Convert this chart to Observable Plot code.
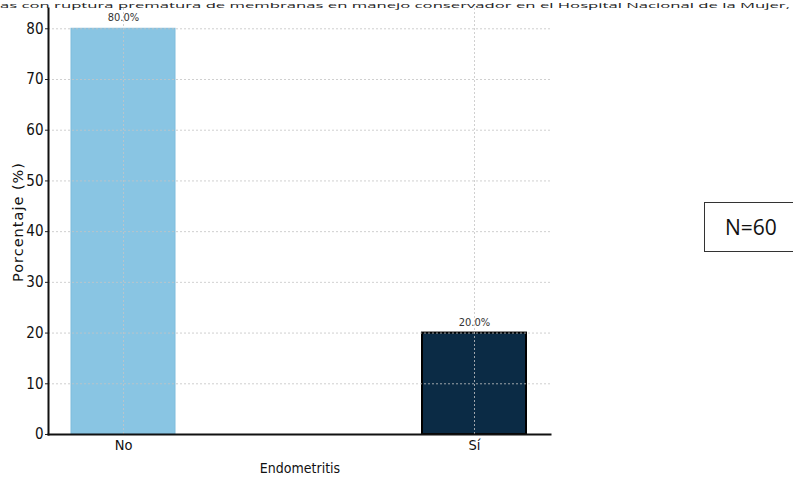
<!DOCTYPE html>
<html>
<head>
<meta charset="utf-8">
<script src="https://cdn.jsdelivr.net/npm/d3@7"></script>
<script src="https://cdn.jsdelivr.net/npm/@observablehq/plot@0.6"></script>
<style>
  html, body { margin: 0; padding: 0; background: #fff; }
  #wrap { position: relative; width: 793px; height: 482px; overflow: hidden; }
  #title { position: absolute; left: 0; top: 0; }
  #nbox {
    position: absolute; left: 704px; top: 202px; width: 96px; height: 50px;
    border: 1px solid #333; box-sizing: border-box;
    font-family: "Open Sans", "Noto Sans", sans-serif; font-size: 21px;
    display: flex; align-items: center; padding-left: 20px; color: #111;
  }
  #chart { position: absolute; left: 0; top: 0; }
</style>
</head>
<body>
<div id="wrap">
  <div id="chart"></div>
  <svg id="title" width="793" height="12"></svg>
  <div id="nbox"></div>
</div>
<script>
// Endometritis frequency (percentage of patients)
const categories = ["No", "Sí"];
const percentages = [80.0, 20.0];
const barColors = ["#89c5e3", "#0b2b45"];
const barEdges = ["#7fbcdc", "#000000"];
const yTicks = [0, 10, 20, 30, 40, 50, 60, 70, 80];
const sampleSize = 60;
const titleText = "as con ruptura prematura de membranas en manejo conservador en el Hospital Nacional de la Mujer,";

const rows = categories.map((c, i) => ({
  category: c,
  value: percentages[i],
  fill: barColors[i],
  edge: barEdges[i],
  label: percentages[i].toFixed(1) + "%"
}));

const narrow = "'DejaVu Sans Condensed', 'Liberation Sans Narrow', sans-serif";

const plot = Plot.plot({
  width: 560,
  height: 482,
  marginLeft: 48,
  marginRight: 10,
  marginTop: 8,
  marginBottom: 48,
  style: { fontFamily: narrow, fontSize: "14px", color: "#222", background: "transparent" },
  x: {
    domain: categories,
    paddingInner: 0.703,
    paddingOuter: 0.066,
    label: null,
    axis: null
  },
  y: {
    domain: [0, 84],
    label: null,
    axis: null
  },
  marks: [
    Plot.barY(rows, {
      x: "category", y: "value",
      fill: d => d.fill, stroke: d => d.edge, strokeWidth: d => d.category === "Sí" ? 2 : 1
    }),
    // dotted grid drawn over the bars
    Plot.gridY(yTicks, { stroke: "#c4c4c4", strokeOpacity: 0.8, strokeDasharray: "2,2", strokeWidth: 1 }),
    Plot.gridX(categories, { stroke: "#c4c4c4", strokeOpacity: 0.8, strokeDasharray: "2,2", strokeWidth: 1 }),
    Plot.text(rows, {
      x: "category", y: "value", text: "label", dy: -11,
      fontSize: 11, fill: "#333", fontFamily: narrow
    }),
    Plot.axisY(yTicks, {
      tickSize: 3, tickPadding: 2, fontSize: 15, fontFamily: narrow, fill: "#111",
      label: null
    }),
    Plot.axisX(categories, {
      tickSize: 0, tickPadding: 5, fontSize: 14.5, fontFamily: narrow, fill: "#111",
      label: null
    }),
    Plot.frame({ anchor: "left", stroke: "#111", strokeWidth: 2 }),
    Plot.frame({ anchor: "bottom", stroke: "#111", strokeWidth: 2 })
  ]
});

// axis titles
const svg = d3.select(plot);
svg.append("text")
  .attr("x", 300).attr("y", 473)
  .attr("text-anchor", "middle")
  .attr("font-family", narrow).attr("font-size", 14).attr("fill", "#111")
  .text("Endometritis");
svg.append("text")
  .attr("transform", "translate(23,222) rotate(-90)")
  .attr("text-anchor", "middle")
  .attr("font-family", "'DejaVu Sans', sans-serif").attr("font-size", 14.5)
  .attr("letter-spacing", 1).attr("fill", "#111")
  .text("Porcentaje (%)");

document.getElementById("chart").appendChild(plot);

// title line across the top edge
d3.select("#title").append("text")
  .attr("x", 0).attr("y", 8)
  .attr("textLength", 790).attr("lengthAdjust", "spacingAndGlyphs")
  .attr("font-family", "'Open Sans', 'Noto Sans', sans-serif").attr("font-size", 7).attr("fill", "#222")
  .text(titleText);

document.getElementById("nbox").textContent = "N=" + sampleSize;
</script>
</body>
</html>
